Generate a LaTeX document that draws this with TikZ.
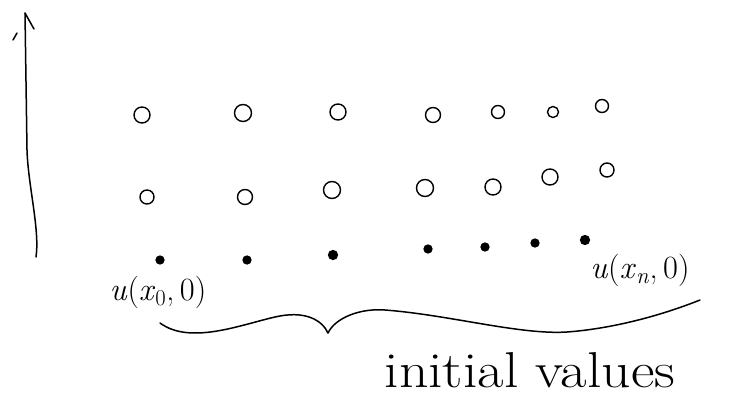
\documentclass[tikz,border=0pt]{standalone}
\usetikzlibrary{calc}
\begin{document}
\begin{tikzpicture}[x=1pt,y=-1pt,
  pen/.style={line width=1.5pt,line cap=round,line join=round},
  opencirc/.style={circle,draw,line width=1.4pt,inner sep=0pt,minimum size=#1},
  opencirc/.default=15pt,
  dotc/.style={circle,draw,fill,line width=1.2pt,inner sep=0pt,minimum size=#1},
  dotc/.default=8pt,
  lbl/.style={inner sep=0pt,font=\fontsize{24}{26}\selectfont},
  biglbl/.style={inner sep=0pt,font=\fontsize{24}{26}\selectfont}]
\useasboundingbox (0,0) rectangle (755,416);
% time axis arrow
\coordinate (ab) at (36,257);
\coordinate (at) at (25,13);
\draw[pen] (ab) .. controls (40,230) and (28,185) .. (27,150) -- (at);
\draw[pen] (at) -- (34,29);
\draw[pen] (13,40) -- (17,33);
% row 1
\node[opencirc=16pt] (c11) at (142,115) {};
\node[opencirc=17pt] (c12) at (243,113) {};
\node[opencirc=16pt] (c13) at (338,112) {};
\node[opencirc=15pt] (c14) at (433,115) {};
\node[opencirc=13pt] (c15) at (498,112) {};
\node[opencirc=11pt] (c16) at (553,112) {};
\node[opencirc=13pt] (c17) at (602,106) {};
% row 2
\node[opencirc=14pt] (c21) at (147,197) {};
\node[opencirc=15pt] (c22) at (245,197) {};
\node[opencirc=17pt] (c23) at (332,190) {};
\node[opencirc=17pt] (c24) at (425,188) {};
\node[opencirc=16pt] (c25) at (493,187) {};
\node[opencirc=16pt] (c26) at (550,177) {};
\node[opencirc=14pt] (c27) at (607,170) {};
% row 3 (initial values)
\node[dotc] (c31) at (160,260) {};
\node[dotc] (c32) at (247,260) {};
\node[dotc=9pt] (c33) at (333,255) {};
\node[dotc] (c34) at (428,249) {};
\node[dotc] (c35) at (485,247) {};
\node[dotc] (c36) at (535,243) {};
\node[dotc=9pt] (c37) at (585,240) {};
% labels
\node[lbl] (l0) at (158,292) {\scalebox{1.35}{\textit{u}(\textit{x}\textsubscript{0},\,0)}};
\node[lbl] (ln) at (640,270) {\scalebox{1.35}{\textit{u}(\textit{x}\textsubscript{\textit{n}},\,0)}};
% brace
\coordinate (bl) at (160,323);
\coordinate (bt) at (328,333);
\coordinate (br) at (700,300);
\draw[pen] (bl) .. controls (190,345) and (240,325) .. (275,317) .. controls (305,310) and (322,320) .. (bt);
\draw[pen] (bt) .. controls (335,318) and (360,308) .. (385,310) .. controls (450,315) and (520,335) .. (567,332) .. controls (620,328) and (670,312) .. (br);
\node[biglbl] (iv) at (530,370) {\scalebox{2.4}[2.1]{initial values}};
\end{tikzpicture}
\end{document}
